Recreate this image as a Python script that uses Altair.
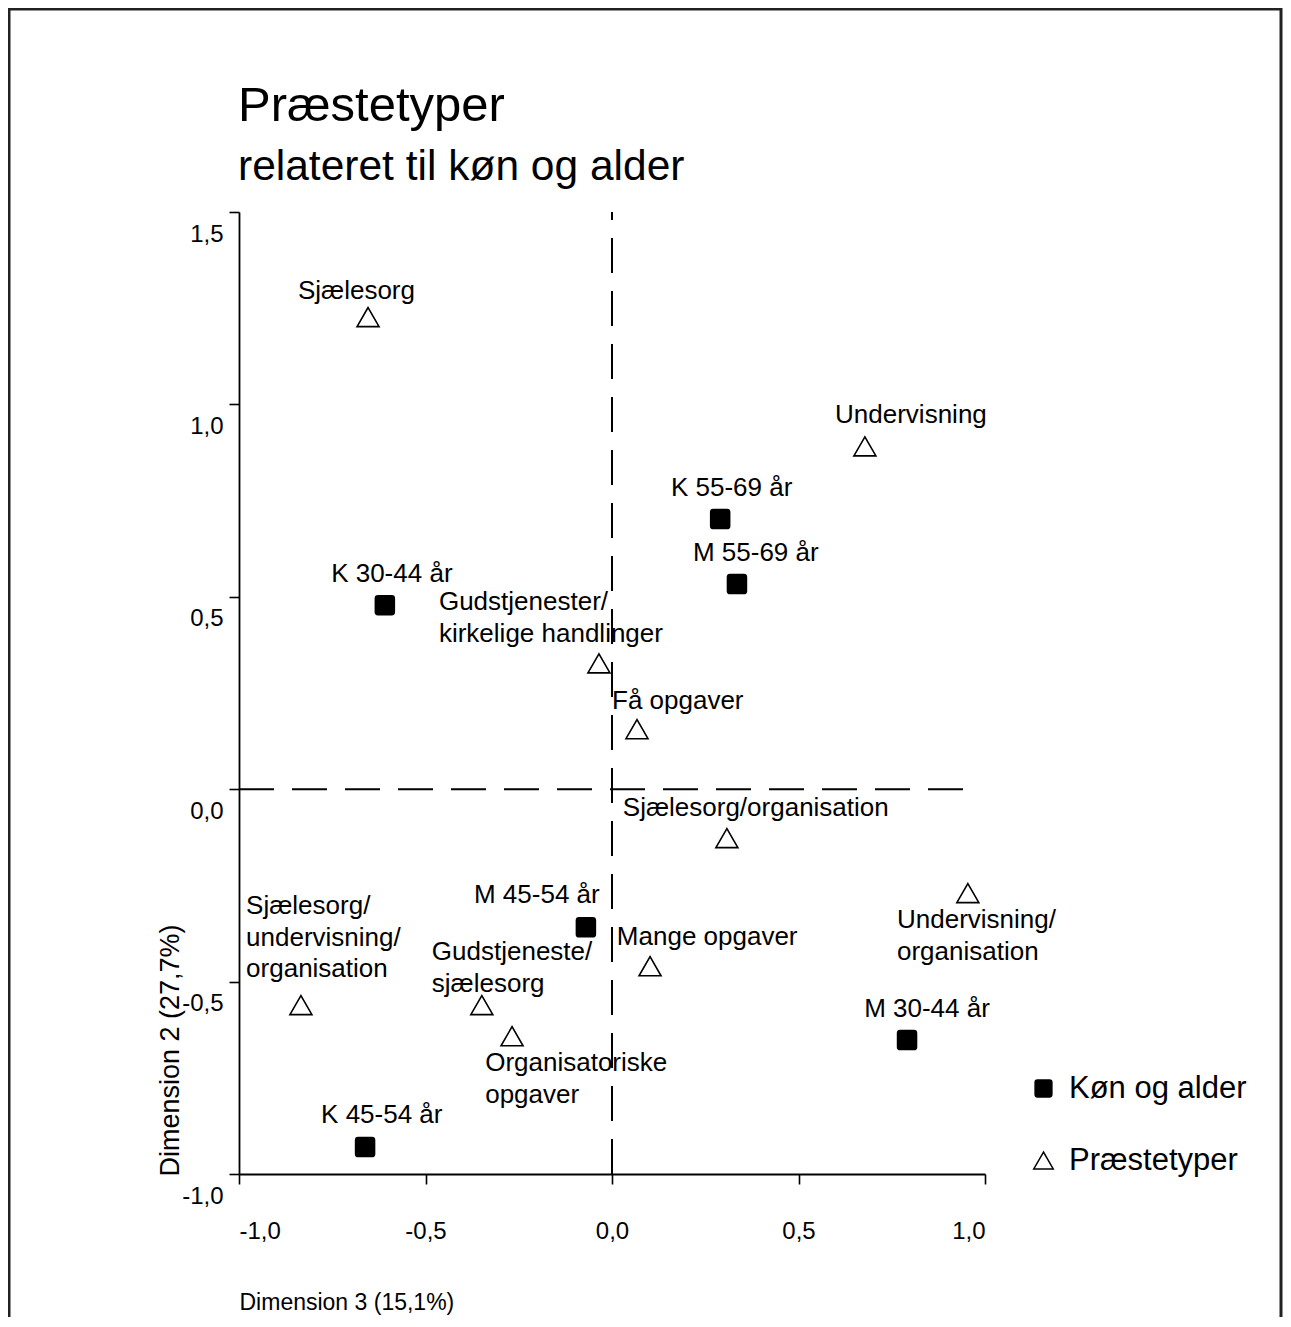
import altair as alt
import pandas as pd

# ---- data ----
type_names = ["Sjælesorg", "Undervisning", "Gudstjenester/\nkirkelige handlinger", "Få opgaver",
              "Sjælesorg/organisation", "Undervisning/\norganisation", "Mange opgaver",
              "Sjælesorg/\nundervisning/\norganisation", "Gudstjeneste/\nsjælesorg",
              "Organisatoriske\nopgaver"]
type_x = [-0.654, 0.678, -0.035, 0.067, 0.308, 0.954, 0.102, -0.834, -0.349, -0.268]
type_y = [1.227, 0.891, 0.327, 0.156, -0.127, -0.270, -0.460, -0.561, -0.561, -0.642]
type_label_x = [-0.842, 0.598, -0.464, 0.000, 0.029, 0.764, 0.013, -0.981, -0.483, -0.340]
type_label_y = [1.294, 0.972, 0.486, 0.229, -0.049, -0.340, -0.385, -0.304, -0.424, -0.712]

group_names = ["K 55-69 år", "M 55-69 år", "K 30-44 år", "M 45-54 år", "M 30-44 år", "K 45-54 år"]
group_x = [0.290, 0.335, -0.609, -0.070, 0.791, -0.662]
group_y = [0.702, 0.533, 0.478, -0.359, -0.652, -0.930]
group_label_x = [0.158, 0.217, -0.753, -0.370, 0.676, -0.780]
group_label_y = [0.782, 0.613, 0.559, -0.275, -0.572, -0.847]

series = ["Køn og alder", "Præstetyper"]
x_ticks = [-1.0, -0.5, 0.0, 0.5, 1.0]
y_ticks = [-1.0, -0.5, 0.0, 0.5, 1.0, 1.5]
title_text = "Præstetyper"
subtitle_text = "relateret til køn og alder"

rows = []
for n, x, y, lx, ly in zip(group_names, group_x, group_y, group_label_x, group_label_y):
    rows.append(dict(name=n, serie=series[0], x=x, y=y, lx=lx, ly=ly))
for n, x, y, lx, ly in zip(type_names, type_x, type_y, type_label_x, type_label_y):
    rows.append(dict(name=n, serie=series[1], x=x, y=y, lx=lx, ly=ly))
df = pd.DataFrame(rows)

FONT = "Liberation Sans"
W, H = 746, 962

rounded_square = ("M -0.62,-0.86 L 0.62,-0.86 Q 0.86,-0.86 0.86,-0.62 L 0.86,0.62 Q 0.86,0.86 0.62,0.86 "
                  "L -0.62,0.86 Q -0.86,0.86 -0.86,0.62 L -0.86,-0.62 Q -0.86,-0.86 -0.62,-0.86 Z")

label_expr = "replace(replace(format(datum.value, '.1f'), '.', ','), '\u2212', '-')"

xscale = alt.Scale(domain=[-1, 1], nice=False, zero=False)
yscale = alt.Scale(domain=[-1, 1.5], nice=False, zero=False)

legend = alt.Legend(title=None, orient="none", legendX=789, legendY=861,
                    labelFontSize=31, symbolSize=380, rowPadding=40, labelLimit=400,
                    labelOffset=10, symbolStrokeWidth=1.5, labelFont=FONT, labelColor="black")

points = alt.Chart(df).mark_point(opacity=1, fillOpacity=1, strokeWidth=1.6, size=484).encode(
    x=alt.X("x:Q", scale=xscale,
            axis=alt.Axis(values=x_ticks, labelExpr=label_expr, grid=False,
                          title="Dimension 3 (15,1%)", titleAnchor="start", titleAlign="left",
                          titleX=0, titleY=128, titleBaseline="middle",
                          titleFontSize=23, titleFontWeight="normal",
                          tickSize=10, labelPadding=35, labelFontSize=24)),
    y=alt.Y("y:Q", scale=yscale,
            axis=alt.Axis(values=y_ticks, labelExpr=label_expr, grid=False,
                          title="Dimension 2 (27,7%)", titleAngle=270, titleAlign="left",
                          titleX=-69, titleY=H + 2, titleBaseline="middle",
                          titleFontSize=27, titleFontWeight="normal",
                          tickSize=10, labelPadding=6, labelOffset=22, labelFontSize=24)),
    shape=alt.Shape("serie:N", scale=alt.Scale(domain=series, range=[rounded_square, "triangle-up"]),
                    legend=legend),
    fill=alt.Fill("serie:N", scale=alt.Scale(domain=series, range=["black", "white"]),
                  legend=legend),
    stroke=alt.Stroke("serie:N", scale=alt.Scale(domain=series, range=["black", "black"]),
                      legend=legend),
)

labels = alt.Chart(df).mark_text(
    align="left", baseline="top", dy=-13, fontSize=26, font=FONT, color="black",
    lineBreak="\n", lineHeight=31.5
).encode(
    x=alt.X("lx:Q", scale=xscale),
    y=alt.Y("ly:Q", scale=yscale),
    text="name:N",
)

vrule = alt.Chart(alt.Data(values=[{"x": 0, "y": -1, "y2": 1.5}])).mark_rule(
    color="black", strokeWidth=2, strokeDash=[35, 18]
).encode(x=alt.X("x:Q", scale=xscale), y=alt.Y("y:Q", scale=yscale), y2="y2:Q")

hrule = alt.Chart(alt.Data(values=[{"y": 0, "x": -1, "x2": 0.957}])).mark_rule(
    color="black", strokeWidth=2, strokeDash=[35, 18]
).encode(y=alt.Y("y:Q", scale=yscale), x=alt.X("x:Q", scale=xscale), x2="x2:Q")

frame = alt.Chart(alt.Data(values=[{"f": 1}])).mark_rect(
    fill=None, stroke="#222222", strokeWidth=3
).encode(
    x=alt.value(-230), x2=alt.value(1042), y=alt.value(-203), y2=alt.value(1250)
)

title = alt.Chart(alt.Data(values=[{"t": title_text}])).mark_text(
    align="left", baseline="alphabetic", fontSize=49, font=FONT, color="black"
).encode(text="t:N", x=alt.value(-1), y=alt.value(-91))

subtitle = alt.Chart(alt.Data(values=[{"t": subtitle_text}])).mark_text(
    align="left", baseline="alphabetic", fontSize=42.5, font=FONT, color="black"
).encode(text="t:N", x=alt.value(-1), y=alt.value(-32))

chart = alt.layer(frame, title, subtitle, vrule, hrule, labels, points).properties(
    width=W, height=H,
    autosize=alt.AutoSizeParams(type="none"),
    padding={"left": 231, "top": 204, "right": 298, "bottom": 143},
).configure_view(stroke=None).configure_axis(
    domainColor="black", domainWidth=1.8, tickColor="black", tickWidth=1.6,
    labelColor="black", titleColor="black", labelFont=FONT, titleFont=FONT
)

chart.save("out.html", embed_options={"renderer": "svg", "actions": False})
